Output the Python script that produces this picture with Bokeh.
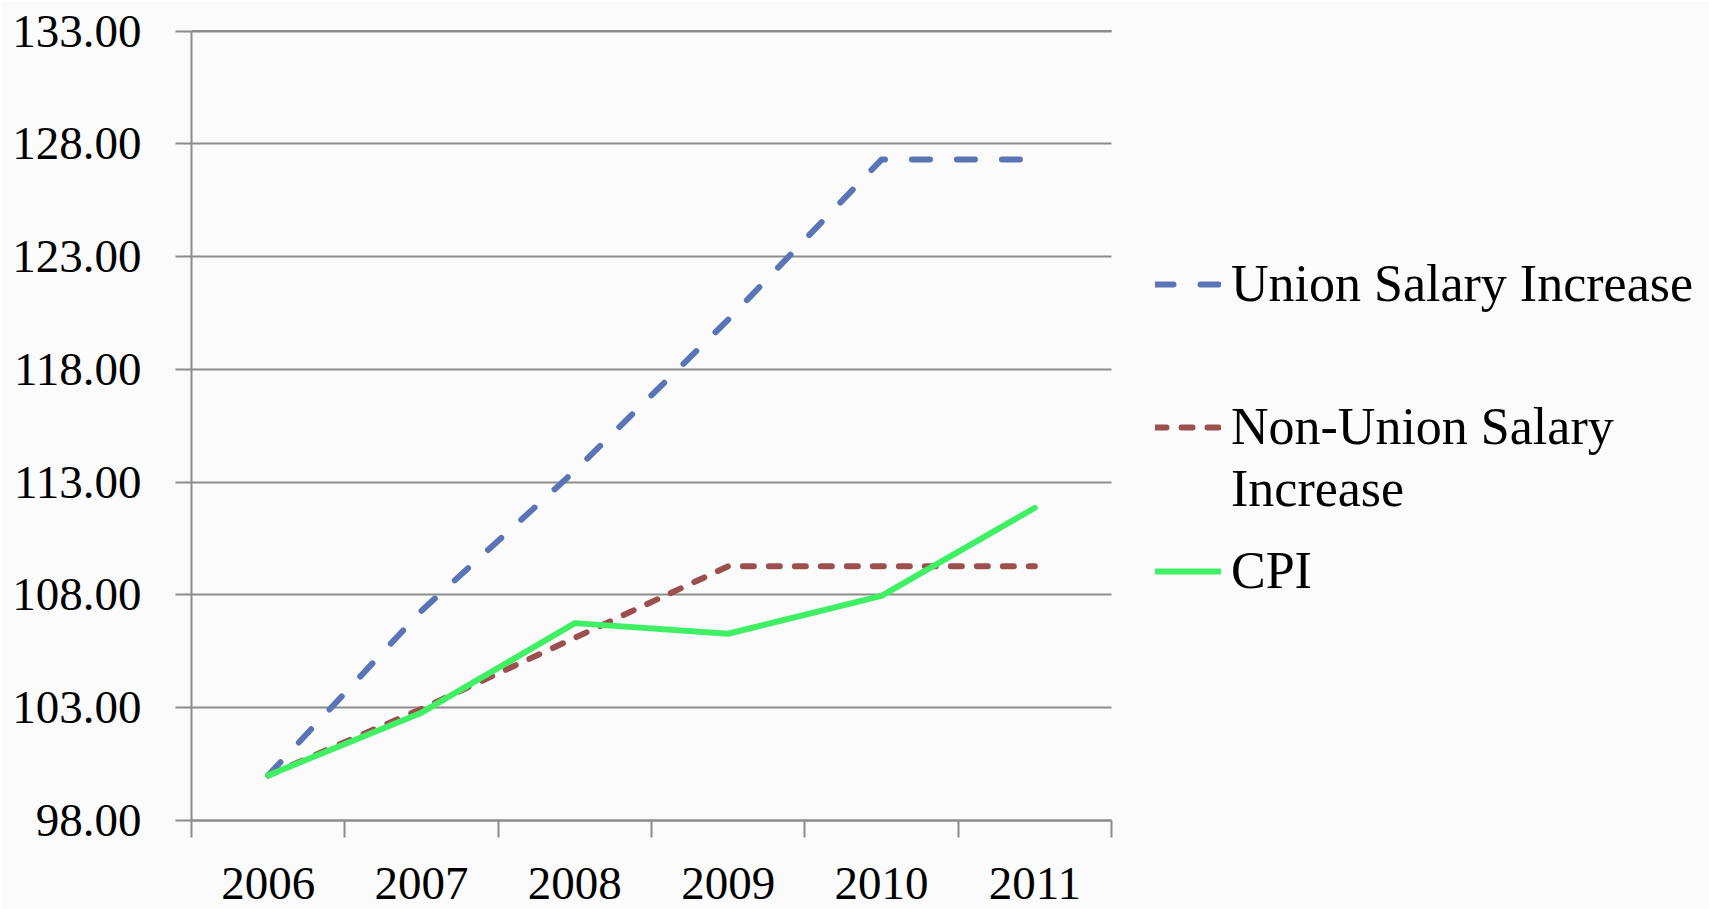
from bokeh.plotting import figure
from bokeh.models import FixedTicker, Legend, LegendItem, Range1d
from bokeh.embed import file_html
from bokeh.resources import INLINE

# ---- data ----
years = ["2006", "2007", "2008", "2009", "2010", "2011"]
union = [100.0, 107.3, 113.5, 120.2, 127.3, 127.3]
non_union = [100.0, 102.95, 106.1, 109.27, 109.27, 109.27]
cpi = [100.0, 102.78, 106.75, 106.28, 107.96, 111.86]
y_ticks = [98, 103, 108, 113, 118, 123, 128, 133]
y_tick_labels = ["98.00", "103.00", "108.00", "113.00", "118.00", "123.00", "128.00", "133.00"]
series_names = ["Union Salary Increase", "Non-Union Salary", "Increase", "CPI"]

# category centres and boundaries on a numeric axis
n = len(years)
xc = [i + 0.5 for i in range(n)]
xb = list(range(n + 1))

W, H = 1709, 909
LEFT, PLOT_W = 191, 920          # chart area in pixels; legend sits to its right
TOP, BOTTOM = 27, 89
GRAY = "#8C8C8C"
FONT = "Liberation Serif"

# a little headroom so the top gridline sits fully inside the frame
frame_h = H - TOP - BOTTOM
y_span = y_ticks[-1] - y_ticks[0]
head = y_span * 3.5 / (frame_h - 3.5)

p = figure(width=W, height=H, output_backend="svg", toolbar_location=None,
           x_range=Range1d(0, n * (W - LEFT) / PLOT_W),
           y_range=Range1d(y_ticks[0], y_ticks[-1] + head),
           min_border_left=LEFT, min_border_right=0, min_border_top=TOP, min_border_bottom=BOTTOM)
p.background_fill_color = "#FBFBFB"
p.border_fill_color = "#FBFBFB"
p.outline_line_color = None
p.grid.visible = False

# y axis (ticks stretched across the chart act as the horizontal gridlines)
p.yaxis.ticker = FixedTicker(ticks=y_ticks)
p.yaxis.major_label_overrides = {t: l for t, l in zip(y_ticks, y_tick_labels)}
p.yaxis.bounds = (y_ticks[0], y_ticks[-1])
p.yaxis.axis_line_color = GRAY
p.yaxis.axis_line_width = 2
p.yaxis.major_tick_out = 16
p.yaxis.major_tick_in = PLOT_W
p.yaxis.major_tick_line_color = GRAY
p.yaxis.major_tick_line_width = 2
p.yaxis.minor_tick_line_color = None
p.yaxis.major_label_text_font = FONT
p.yaxis.major_label_text_font_size = "47px"
p.yaxis.major_label_text_color = "black"
p.yaxis.major_label_standoff = 34

# top edge gridline of the chart (at the highest tick)
p.segment(x0=[xb[0]], x1=[xb[-1]], y0=[y_ticks[-1]], y1=[y_ticks[-1]],
          line_color=GRAY, line_width=2, level="underlay")

# x axis: labels at category centres, ticks at category boundaries
xa = p.below[0]
xa.bounds = (0, n)
xa.ticker = FixedTicker(ticks=xc, minor_ticks=xb)
xa.major_label_overrides = {c: y for c, y in zip(xc, years)}
xa.axis_line_color = GRAY
xa.axis_line_width = 2
xa.major_tick_line_color = None
xa.major_tick_out = 0
xa.major_tick_in = 0
xa.minor_tick_out = 17
xa.minor_tick_in = 0
xa.minor_tick_line_color = GRAY
xa.minor_tick_line_width = 2
xa.major_label_text_font = FONT
xa.major_label_text_font_size = "47px"
xa.major_label_text_color = "black"
xa.major_label_standoff = 30

# data lines drawn above the axis/grid ticks
r_union = p.line(xc, union, line_color="#5B74B6", line_width=6, line_dash="18 27",
                 line_cap="round", line_join="round", level="annotation")
r_non = p.line(xc, non_union, line_color="#9C4F4F", line_width=6, line_dash="11 15",
               line_cap="round", line_join="round", level="annotation")
r_cpi = p.line(xc, cpi, line_color="#40F064", line_width=6,
               line_cap="round", line_join="round", level="annotation")


def make_legend(items, loc, spacing=0):
    lg = Legend(items=items, location=loc)
    lg.border_line_color = None
    lg.background_fill_alpha = 0
    lg.padding = 0
    lg.margin = 0
    lg.spacing = spacing
    lg.glyph_width = 66
    lg.label_standoff = 10
    lg.label_text_font = FONT
    lg.label_text_font_size = "52px"
    lg.label_text_color = "black"
    p.add_layout(lg)
    return lg


LX = 964
make_legend([LegendItem(label=series_names[0], renderers=[r_union])], (LX, 507))
make_legend([LegendItem(label=series_names[1], renderers=[r_non]),
             LegendItem(label=series_names[2], renderers=[])], (LX, 302), spacing=3)
make_legend([LegendItem(label=series_names[3], renderers=[r_cpi])], (LX, 220))

open("out.html", "w").write(file_html(p, INLINE))
